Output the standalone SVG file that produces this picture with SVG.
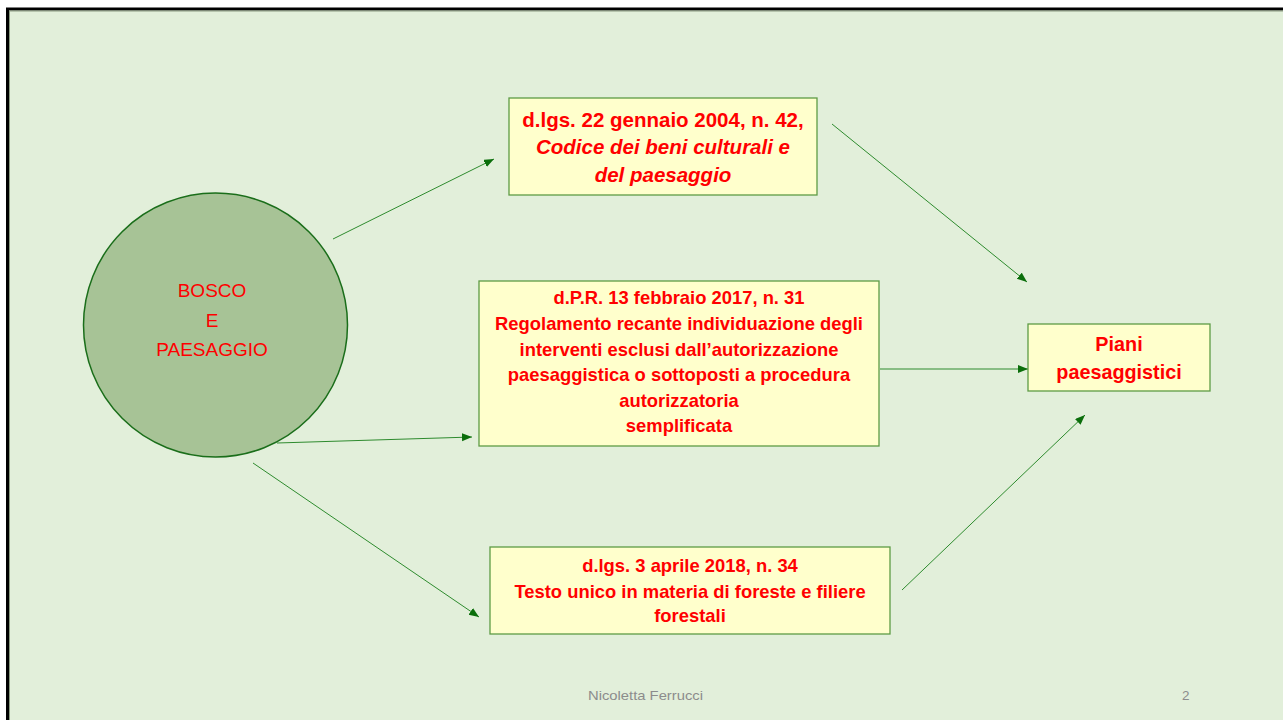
<svg xmlns="http://www.w3.org/2000/svg" width="1283" height="720" viewBox="0 0 1283 720">
<style>
.bg{fill:#E2EFDA}
.box{fill:#FFFFCC;stroke:#5E9B45;stroke-width:1.3}
.t{font-family:"Liberation Sans",Arial,sans-serif;fill:#FF0000;text-anchor:middle}
.b{font-weight:bold}
.s{font-size:18.4px}
.c{stroke:#2E8B2E;stroke-width:1;fill:none;marker-end:url(#ah)}
.foot{font-family:"Liberation Sans",sans-serif;fill:#8C8C8C;font-size:13.5px}
</style>
<defs>
<marker id="ah" markerUnits="userSpaceOnUse" markerWidth="12" markerHeight="10" refX="10" refY="4" orient="auto">
<path d="M0,0 L10,4 L0,8 Z" fill="#0B6E0B"/>
</marker>
</defs>
<rect width="1283" height="720" fill="#FFFFFF"/>
<rect x="7.5" y="9" width="1290" height="720" class="bg" stroke="#000" stroke-width="3"/>
<rect x="9.5" y="11" width="1290" height="720" fill="none" stroke="#8a9a80" stroke-width="1"/>

<g id="connectors">
<line class="c" x1="333" y1="239" x2="494" y2="159"/>
<line class="c" x1="832" y1="124" x2="1027" y2="282"/>
<line class="c" x1="880" y1="369" x2="1028" y2="369"/>
<line class="c" x1="277" y1="443" x2="472" y2="437"/>
<line class="c" x1="253" y1="463" x2="479" y2="617"/>
<line class="c" x1="902" y1="590" x2="1085" y2="415"/>
</g>

<g id="bosco">
<circle cx="215.5" cy="325" r="132" fill="#A7C396" stroke="#1A6E1A" stroke-width="1.5"/>
<text class="t" font-size="19" x="212" y="297">BOSCO</text>
<text class="t" font-size="19" x="212" y="327">E</text>
<text class="t" font-size="19" x="212" y="356">PAESAGGIO</text>
</g>

<g id="codice">
<rect class="box" x="509" y="98" width="308" height="97"/>
<text class="t b" font-size="20.5" x="663" y="127">d.lgs. 22 gennaio 2004, n. 42,</text>
<text class="t b" font-size="20.5" font-style="italic" x="663" y="154">Codice dei beni culturali e</text>
<text class="t b" font-size="20.5" font-style="italic" x="663" y="182">del paesaggio</text>
</g>

<g id="dpr">
<rect class="box" x="479" y="281" width="400" height="165"/>
<text class="t b s" x="679" y="304">d.P.R. 13 febbraio 2017, n. 31</text>
<text class="t b s" x="679" y="330">Regolamento recante individuazione degli</text>
<text class="t b s" x="679" y="356">interventi esclusi dall’autorizzazione</text>
<text class="t b s" x="679" y="381">paesaggistica o sottoposti a procedura</text>
<text class="t b s" x="679" y="407">autorizzatoria</text>
<text class="t b s" x="679" y="432">semplificata</text>
</g>

<g id="testo-unico">
<rect class="box" x="490" y="547" width="400" height="87"/>
<text class="t b s" x="690" y="572">d.lgs. 3 aprile 2018, n. 34</text>
<text class="t b s" x="690" y="598">Testo unico in materia di foreste e filiere</text>
<text class="t b s" x="690" y="622">forestali</text>
</g>

<g id="piani">
<rect class="box" x="1028" y="324" width="182" height="67"/>
<text class="t b" font-size="19.8" x="1119" y="351">Piani</text>
<text class="t b" font-size="19.8" x="1119" y="379">paesaggistici</text>
</g>

<g id="footer">
<text class="foot" x="588" y="700" textLength="115" lengthAdjust="spacingAndGlyphs">Nicoletta Ferrucci</text>
<text class="foot" x="1182" y="700">2</text>
</g>
</svg>
